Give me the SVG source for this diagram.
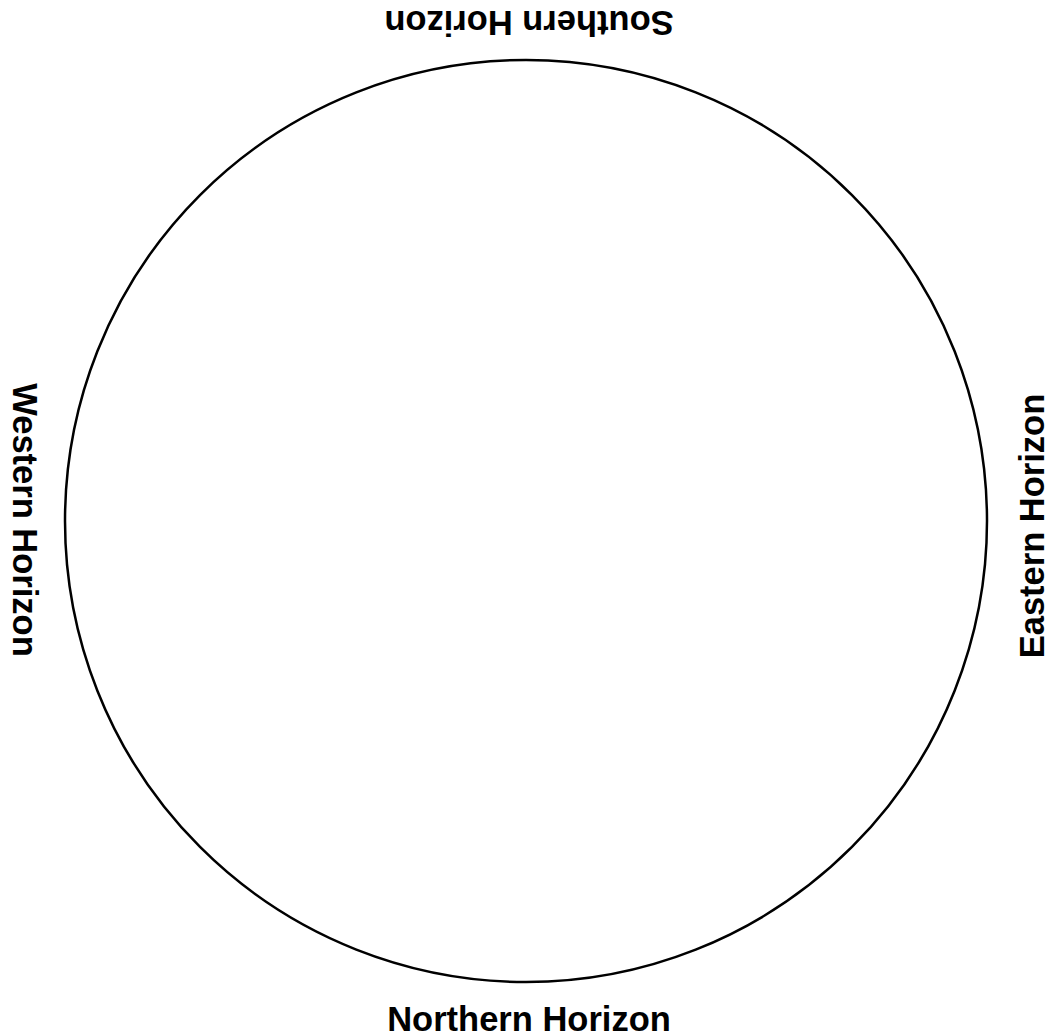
<svg xmlns="http://www.w3.org/2000/svg" width="1049" height="1036" viewBox="0 0 1049 1036">
<style>
.lbl{font-family:"Liberation Sans",Arial,sans-serif;font-weight:bold;font-size:34.5px;fill:#000;text-anchor:middle}
.ring{fill:none;stroke:#000;stroke-width:2.5}
</style>
<rect width="1049" height="1036" fill="#fff"/>
<g id="horizon">
<circle class="ring" cx="526" cy="521" r="461"/>
</g>
<g id="labels">
<text id="south" class="lbl" x="529" y="11" transform="rotate(180 529 11)">Southern Horizon</text>
<text id="north" class="lbl" x="529" y="1031">Northern Horizon</text>
<text id="west" class="lbl" x="13" y="520" transform="rotate(90 13 520)">Western Horizon</text>
<text id="east" class="lbl" x="1044" y="526" transform="rotate(-90 1044 526)">Eastern Horizon</text>
</g>
</svg>
